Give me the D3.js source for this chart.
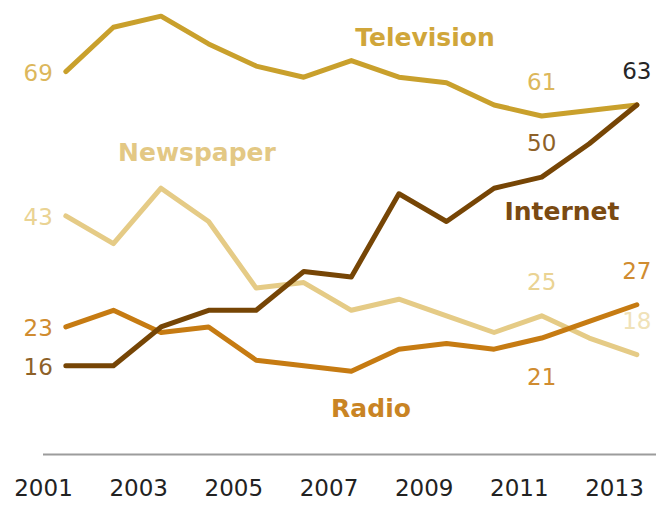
<!DOCTYPE html>
<html>
<head>
<meta charset="utf-8">
<script src="https://cdn.jsdelivr.net/npm/d3@7"></script>
<style>
  body { margin: 0; background: #fff; }
  svg { display: block; font-family: "DejaVu Sans", Verdana, sans-serif; }
</style>
</head>
<body>
<svg id="chart" width="656" height="505"></svg>
<script>
// survey years (one point per year) and the years shown on the axis
const years = [2001, 2002, 2003, 2004, 2005, 2006, 2007, 2008, 2009, 2010, 2011, 2012, 2013];
const tickYears = [2001, 2003, 2005, 2007, 2009, 2011, 2013];

// % naming each as a main source of news
const television = [69, 77, 79, 74, 70, 68, 71, 68, 67, 63, 61, 62, 63];
const newspaper  = [43, 38, 48, 42, 30, 31, 26, 28, 25, 22, 25, 21, 18];
const radio      = [23, 26, 22, 23, 17, 16, 15, 19, 20, 19, 21, 24, 27];
const internet   = [16, 16, 23, 26, 26, 33, 32, 47, 42, 48, 50, 56, 63];

const seriesNames = ["Newspaper", "Radio", "Television", "Internet"];

// which points carry a number: [series, year index, above/below/start]
const valueLabels = [
    ["Television", 0, "start"], ["Newspaper", 0, "start"], ["Radio", 0, "start"], ["Internet", 0, "start"],
    ["Television", 10, "above"], ["Internet", 10, "above"], ["Internet", 12, "above"],
    ["Newspaper", 10, "above"], ["Newspaper", 12, "above"],
    ["Radio", 10, "below"], ["Radio", 12, "above"]
];

const values = {
    "Television": television,
    "Newspaper": newspaper,
    "Radio": radio,
    "Internet": internet
};

const colors = {
    "Television": {line: "#c9a02c", text: "#d0a63a", num: "#dcb75c"},
    "Newspaper":  {line: "#e5cb86", text: "#e3c884", num: "#ead393"},
    "Radio":      {line: "#c67b12", text: "#c98424", num: "#d08c30"},
    "Internet":   {line: "#764505", text: "#7a4a12", num: "#8e6128"}
};

const svg = d3.select("#chart");

/** Scales */
const x = d3.scaleLinear().domain([2001, 2013]).range([43, 614]);
// survey points sit about half a year to the right of the year label
const xp = i => x(years[i] + 0.48);
const y = d3.scaleLinear().domain([0, 80]).range([454.6, 10.6]);

/** Axis */
svg.append("line")
    .attr("x1", x(2001)).attr("x2", 656)
    .attr("y1", y(0)).attr("y2", y(0))
    .attr("stroke", "#9c9c9c")
    .attr("stroke-width", 2);

const axis = svg.append("g")
    .attr("transform", "translate(0," + y(0) + ")")
    .call(d3.axisBottom(x)
        .tickValues(tickYears)
        .tickFormat(d3.format("d"))
        .tickSize(0)
        .tickPadding(25));
axis.select(".domain").remove();
axis.selectAll("text")
    .attr("font-family", "DejaVu Sans, Verdana, sans-serif")
    .attr("font-size", 23)
    .attr("fill", "#222");

/** Lines */
const line = d3.line()
    .x((d, i) => xp(i))
    .y(d => y(d));

svg.selectAll("path.series")
    .data(seriesNames)
    .enter()
    .append("path")
    .attr("class", "series")
    .attr("d", name => line(values[name]))
    .attr("fill", "none")
    .attr("stroke", name => colors[name].line)
    .attr("stroke-width", 5)
    .attr("stroke-linejoin", "round")
    .attr("stroke-linecap", "round");

/** Numbers on the lines */
svg.selectAll("text.num")
    .data(valueLabels)
    .enter()
    .append("text")
    .attr("class", "num")
    .attr("font-size", 23)
    .attr("text-anchor", d => d[2] == "start" ? "end" : "middle")
    .attr("x", d => d[2] == "start" ? xp(d[1]) - 13 : xp(d[1]))
    .attr("y", function (d) {
        const py = y(values[d[0]][d[1]]);
        if (d[2] == "start") return py + 9;
        if (d[2] == "below") return py + 47;
        return py - 26;
    })
    .attr("fill", function (d) {
        // final Internet value is printed in black
        if (d[0] == "Internet" && d[1] == 12) return "#262626";
        if (d[0] == "Newspaper" && d[1] == 12) return "#f0e2b8";
        return colors[d[0]].num;
    })
    .text(d => values[d[0]][d[1]]);

/** Series names */
const nameSpots = [
    {name: "Television", x: 425, y: 46},
    {name: "Newspaper", x: 197, y: 161},
    {name: "Internet", x: 562, y: 220},
    {name: "Radio", x: 371, y: 417}
];

svg.selectAll("text.name")
    .data(nameSpots)
    .enter()
    .append("text")
    .attr("class", "name")
    .attr("x", d => d.x)
    .attr("y", d => d.y)
    .attr("text-anchor", "middle")
    .attr("font-size", 25)
    .attr("font-weight", "bold")
    .attr("fill", d => colors[d.name].text)
    .text(d => d.name);
</script>
</body>
</html>
